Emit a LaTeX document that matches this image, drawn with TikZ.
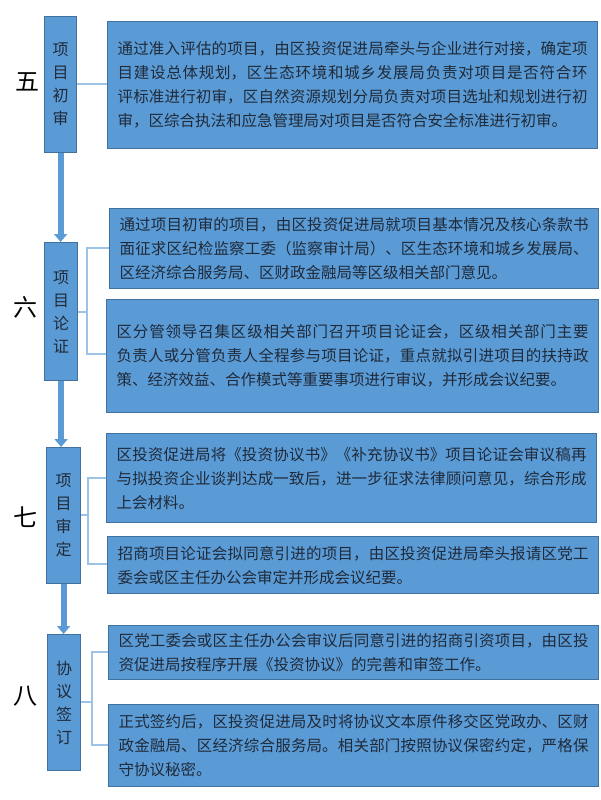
\documentclass[tikz,border=0pt]{standalone}
\usepackage{fontspec}
\setmainfont{Noto Sans CJK SC}
\XeTeXlinebreaklocale "zh"
\XeTeXlinebreakskip=0pt plus 1pt
\usetikzlibrary{arrows.meta}
\definecolor{boxfill}{HTML}{5B9BD5}
\definecolor{boxdraw}{HTML}{41719C}
\definecolor{linkc}{HTML}{9DC3E6}
\definecolor{txt}{HTML}{1F2A3A}
\tikzset{
  x=1pt,y=-1pt,
  txtbox/.style={draw=boxdraw,fill=boxfill,line width=1.2pt,anchor=north west,inner xsep=10pt,
    text width=#1-20pt,align=justify,font=\fontsize{15.5}{24}\selectfont,text=txt},
  stepbox/.style={draw=boxdraw,fill=boxfill,line width=1.2pt,anchor=north west,align=center,
    font=\fontsize{16}{23}\selectfont,text=txt,inner sep=0pt},
  numlabel/.style={font=\fontsize{24}{24}\selectfont,text=black},
  link/.style={draw=linkc,line width=1.5pt},
  flow/.style={draw=boxfill,line width=6pt,-{Triangle[width=13pt,length=8pt]}},
}
\begin{document}
\begin{tikzpicture}
\useasboundingbox (0,0) rectangle (600,800);
% step 5
\node[stepbox,minimum width=32,minimum height=136] (s5) at (44,16) {项\\目\\初\\审};
\node[txtbox=490,minimum height=127] (t5) at (107,21) {通过准入评估的项目，由区投资促进局牵头与企业进行对接，确定项目建设总体规划，区生态环境和城乡发展局负责对项目是否符合环评标准进行初审，区自然资源规划分局负责对项目选址和规划进行初审，区综合执法和应急管理局对项目是否符合安全标准进行初审。};
\node[numlabel] (n5) at (27,82) {五};
\draw[link] (s5.east |- 0,84) coordinate (c5) -- (c5 -| t5.west);
% step 6
\node[stepbox,minimum width=33,minimum height=138] (s6) at (44,242) {项\\目\\论\\证};
\node[txtbox=489,minimum height=80] (t6a) at (109,208) {通过项目初审的项目，由区投资促进局就项目基本情况及核心条款书面征求区纪检监察工委（监察审计局）、区生态环境和城乡发展局、区经济综合服务局、区财政金融局等区级相关部门意见。};
\node[txtbox=492,minimum height=113] (t6b) at (106,299) {区分管领导召集区级相关部门召开项目论证会，区级相关部门主要负责人或分管负责人全程参与项目论证，重点就拟引进项目的扶持政策、经济效益、合作模式等重要事项进行审议，并形成会议纪要。};
\node[numlabel] (n6) at (25,307) {六};
\coordinate (b6) at (87,312);
\draw[link] (s6.east |- b6) -- (b6);
\draw[link] (t6a.west |- 0,248) -| (b6) |- (t6b.west |- 0,354);
\draw[flow] (s5.south) -- (s5.south |- s6.north);
% step 7
\node[stepbox,minimum width=34,minimum height=136] (s7) at (46,447) {项\\目\\审\\定};
\node[txtbox=490,minimum height=89] (t7a) at (106,433) {区投资促进局将《投资协议书》《补充协议书》项目论证会审议稿再与拟投资企业谈判达成一致后，进一步征求法律顾问意见，综合形成上会材料。};
\node[txtbox=491,minimum height=57] (t7b) at (107,536) {招商项目论证会拟同意引进的项目，由区投资促进局牵头报请区党工委会或区主任办公会审定并形成会议纪要。};
\node[numlabel] (n7) at (25,517) {七};
\coordinate (b7) at (88,515);
\draw[link] (s7.east |- b7) -- (b7);
\draw[link] (t7a.west |- 0,478) -| (b7) |- (t7b.west |- 0,564);
\draw[flow] (s6.south) -- (s6.south |- s7.north);
% step 8
\node[stepbox,minimum width=33,minimum height=136] (s8) at (47,634) {协\\议\\签\\订};
\node[txtbox=490,minimum height=54] (t8a) at (108,625) {区党工委会或区主任办公会审议后同意引进的招商引资项目，由区投资促进局按程序开展《投资协议》的完善和审签工作。};
\node[txtbox=490,minimum height=82] (t8b) at (108,704) {正式签约后，区投资促进局及时将协议文本原件移交区党政办、区财政金融局、区经济综合服务局。相关部门按照协议保密约定，严格保守协议秘密。};
\node[numlabel] (n8) at (25,696) {八};
\coordinate (b8) at (92,702);
\draw[link] (s8.east |- b8) -- (b8);
\draw[link] (t8a.west |- 0,652) -| (b8) |- (t8b.west |- 0,745);
\draw[flow] (s7.south) -- (s7.south |- s8.north);
\end{tikzpicture}
\end{document}
